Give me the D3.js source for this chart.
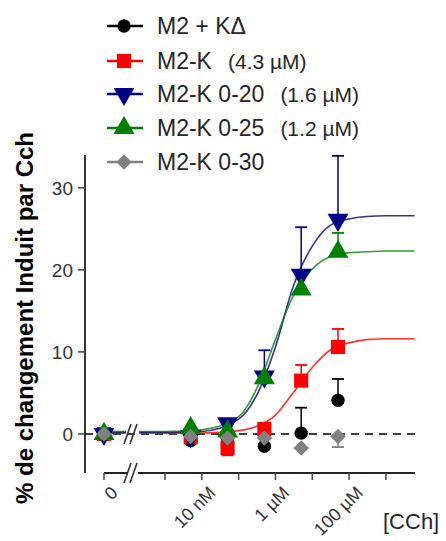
<!DOCTYPE html>
<head>
    <meta charset="utf-8">
    <script src="https://d3js.org/d3.v7.min.js"></script>
    <style>
        body {
            margin: 0;
            background-color: #fff;
        }

        text {
            font-family: Arial, "Liberation Sans", sans-serif;
        }

        .tick-label {
            fill: #333;
            font-size: 19px;
        }

        .x-label {
            font-size: 18px;
        }

        .legend text {
            fill: #262626;
            font-size: 23px;
        }

        .legend .ec50 {
            font-size: 21px;
        }

        .y-title {
            font-size: 24px;
            font-weight: bold;
            fill: #000;
        }
    </style>
</head>

<body>
    <script>
        var width = 446,
            height = 541;

        // concentrations of CCh (M); 0 = no agonist
        var concs = [0, 5e-9, 5e-8, 5e-7, 5e-6, 5e-5];

        var seriesNames = ["M2 + K\u0394", "M2-K", "M2-K 0-20", "M2-K 0-25", "M2-K 0-30"];
        var seriesEC50 = ["", "(4.3 \u00b5M)", "(1.6 \u00b5M)", "(1.2 \u00b5M)", ""];
        var seriesColors = ["#000000", "#ff0000", "#000080", "#008000", "#808080"];
        var seriesSymbols = ["circle", "square", "triangleDown", "triangleUp", "diamond"];

        var m2KDelta = [0, -0.8, -0.5, -1.5, 0.1, 4.1];
        var m2K = [0, -0.4, -1.7, 0.6, 6.5, 10.6];
        var m2K020 = [0, -0.3, 1.3, 7.0, 19.4, 26.1];
        var m2K025 = [0, 0.7, 0.3, 6.8, 17.6, 22.2];
        var m2K030 = [0, -0.3, -0.5, -0.5, -1.7, -0.3];

        // end of each error bar (mean + or - SEM), null = hidden
        var m2KDeltaErr = [null, null, null, null, 3.2, 6.7];
        var m2KErr = [null, null, -2.6, null, 8.4, 12.8];
        var m2K020Err = [null, null, null, 10.2, 25.2, 33.9];
        var m2K025Err = [null, null, null, null, null, 24.5];
        var m2K030Err = [null, null, null, null, null, -1.6];

        // fitted curves
        var curveConcs = [2e-10, 1e-9, 1e-8, 1e-7, 3e-7, 1e-6, 3e-6, 1e-5, 3e-5, 1e-4, 3e-4, 1e-3, 6e-3];
        var m2KFit = [0.1, 0.1, 0.1, 0.4, 0.9, 2.3, 5.0, 8.1, 10.2, 11.1, 11.5, 11.6, 11.6];
        var m2K020Fit = [0.2, 0.2, 0.3, 1.8, 4.6, 10.6, 17.9, 22.9, 25.4, 26.2, 26.5, 26.6, 26.6];
        var m2K025Fit = [0.3, 0.3, 0.5, 2.1, 5.4, 11.5, 16.8, 20.1, 21.6, 22.1, 22.2, 22.3, 22.3];

        var yTicks = [0, 10, 20, 30];
        var xTicks = [1e-9, 1e-8, 1e-7, 1e-6, 1e-5, 1e-4, 1e-3];
        var xLabelled = [0, 1e-8, 1e-6, 1e-4];
        var xLabelText = ["0", "10 nM", "1 \u00b5M", "100 \u00b5M"];

        var series = [
            {values: m2KDelta, err: m2KDeltaErr, fit: null},
            {values: m2K, err: m2KErr, fit: m2KFit},
            {values: m2K020, err: m2K020Err, fit: m2K020Fit},
            {values: m2K025, err: m2K025Err, fit: m2K025Fit},
            {values: m2K030, err: m2K030Err, fit: null}
        ];

        var svg = d3.select("body").append("svg")
            .attr("width", width)
            .attr("height", height);

        var axisX = 85,
            axisY = 473,
            zeroX = 104,
            breakL = 127,
            breakR = 138,
            plotRight = 415;

        var y = d3.scaleLinear()
            .domain([-4.76, 34])
            .range([axisY, 155]);

        var x = d3.scaleLog()
            .domain([Math.pow(10, -9.76), Math.pow(10, -2.21)])
            .range([137, plotRight]);

        function xPos(c) {
            return c === 0 ? zeroX : x(c);
        }

        // y axis
        svg.append("line")
            .attr("x1", axisX).attr("x2", axisX)
            .attr("y1", 155).attr("y2", axisY)
            .attr("stroke", "#222").attr("stroke-width", 1.8);

        svg.selectAll(".ytick")
            .data(yTicks)
            .enter().append("line")
            .attr("x1", axisX - 7).attr("x2", axisX)
            .attr("y1", function(d) { return y(d); })
            .attr("y2", function(d) { return y(d); })
            .attr("stroke", "#444").attr("stroke-width", 1.5);

        svg.selectAll(".ylabel")
            .data(yTicks)
            .enter().append("text")
            .attr("class", "tick-label")
            .attr("x", axisX - 12)
            .attr("y", function(d) { return y(d); })
            .attr("dy", "0.36em")
            .attr("text-anchor", "end")
            .text(function(d) { return d; });

        svg.append("text")
            .attr("class", "y-title")
            .attr("transform", "translate(33,318) rotate(-90)")
            .attr("text-anchor", "middle")
            .text("% de changement Induit par Cch");

        // x axis, broken
        svg.append("line")
            .attr("x1", zeroX).attr("x2", breakL)
            .attr("y1", axisY).attr("y2", axisY)
            .attr("stroke", "#222").attr("stroke-width", 2);
        svg.append("line")
            .attr("x1", breakR).attr("x2", plotRight)
            .attr("y1", axisY).attr("y2", axisY)
            .attr("stroke", "#222").attr("stroke-width", 2);

        svg.selectAll(".xtick")
            .data([0].concat(xTicks))
            .enter().append("line")
            .attr("x1", xPos).attr("x2", xPos)
            .attr("y1", axisY).attr("y2", axisY + 7)
            .attr("stroke", "#444").attr("stroke-width", 1.5);

        svg.selectAll(".xlabel")
            .data(xLabelled)
            .enter().append("text")
            .attr("class", "tick-label x-label")
            .attr("text-anchor", "end")
            .attr("transform", function(d) {
                return "translate(" + (xPos(d) + 6) + "," + (axisY + 12) + ") rotate(-45)";
            })
            .attr("dy", "0.7em")
            .text(function(d, i) { return xLabelText[i]; });

        svg.append("text")
            .attr("x", 383)
            .attr("y", 529)
            .attr("fill", "#262626")
            .style("font-size", "22px")
            .text("[CCh]");

        function breakMarks(cy, h) {
            [0, 6].forEach(function(o) {
                svg.append("line")
                    .attr("x1", breakL - 3 + o).attr("y1", cy + h / 2)
                    .attr("x2", breakL + 4 + o).attr("y2", cy - h / 2)
                    .attr("stroke", "#333").attr("stroke-width", 1.6);
            });
        }
        breakMarks(axisY, 20);

        // dashed zero line
        svg.append("line")
            .attr("x1", axisX).attr("x2", plotRight)
            .attr("y1", y(0)).attr("y2", y(0))
            .attr("stroke", "#000").attr("stroke-width", 1.5)
            .attr("stroke-dasharray", "8,6");

        breakMarks(y(0), 20);

        // fitted curves
        var line = d3.line()
            .x(function(d) { return x(d[0]); })
            .y(function(d) { return y(d[1]); })
            .curve(d3.curveMonotoneX);

        series.forEach(function(s, i) {
            if (!s.fit) return;
            svg.append("line")
                .attr("x1", zeroX).attr("x2", breakL - 1)
                .attr("y1", y(s.fit[0])).attr("y2", y(s.fit[0]))
                .attr("stroke", seriesColors[i]).attr("stroke-width", 1.6)
                .attr("opacity", 0.8);
            svg.append("path")
                .datum(curveConcs.map(function(c, j) { return [c, s.fit[j]]; }))
                .attr("d", line)
                .attr("fill", "none")
                .attr("stroke", seriesColors[i])
                .attr("stroke-width", 1.6)
                .attr("opacity", 0.8);
        });

        var symbols = {
            circle: {gen: d3.symbol().type(d3.symbolCircle).size(140), rot: 0},
            square: {gen: d3.symbol().type(d3.symbolSquare).size(200), rot: 0},
            triangleUp: {gen: d3.symbol().type(d3.symbolTriangle).size(190), rot: 0},
            triangleDown: {gen: d3.symbol().type(d3.symbolTriangle).size(190), rot: 180},
            diamond: {gen: d3.symbol().type(d3.symbolSquare).size(120), rot: 45}
        };

        function drawSymbol(g, type, color, cx, cy) {
            var sym = symbols[type];
            g.append("path")
                .attr("d", sym.gen())
                .attr("transform", "translate(" + cx + "," + cy + ") rotate(" + sym.rot + ")")
                .attr("fill", color);
        }

        // error bars then points
        series.forEach(function(s, i) {
            var g = svg.append("g");
            s.values.forEach(function(v, j) {
                var e = s.err[j];
                if (e === null) return;
                var cx = xPos(concs[j]);
                g.append("line")
                    .attr("x1", cx).attr("x2", cx)
                    .attr("y1", y(v)).attr("y2", y(e))
                    .attr("stroke", seriesColors[i]).attr("stroke-width", 1.5);
                g.append("line")
                    .attr("x1", cx - 6).attr("x2", cx + 6)
                    .attr("y1", y(e)).attr("y2", y(e))
                    .attr("stroke", seriesColors[i]).attr("stroke-width", 1.8);
            });
            s.values.forEach(function(v, j) {
                drawSymbol(g, seriesSymbols[i], seriesColors[i], xPos(concs[j]), y(v));
            });
        });

        // legend
        var legendRows = [26, 61, 94, 128, 162];
        var legend = svg.append("g").attr("class", "legend");

        seriesNames.forEach(function(name, i) {
            var ly = legendRows[i];
            legend.append("line")
                .attr("x1", 107).attr("x2", 143)
                .attr("y1", ly).attr("y2", ly)
                .attr("stroke", seriesColors[i]).attr("stroke-width", 2.5);
            drawSymbol(legend, seriesSymbols[i], seriesColors[i], 124, ly);
            var t = legend.append("text")
                .attr("x", 157)
                .attr("y", ly + 8)
                .text(name);
            if (seriesEC50[i]) {
                t.append("tspan")
                    .attr("class", "ec50")
                    .attr("dx", 16)
                    .text(seriesEC50[i]);
            }
        });
    </script>
</body>
